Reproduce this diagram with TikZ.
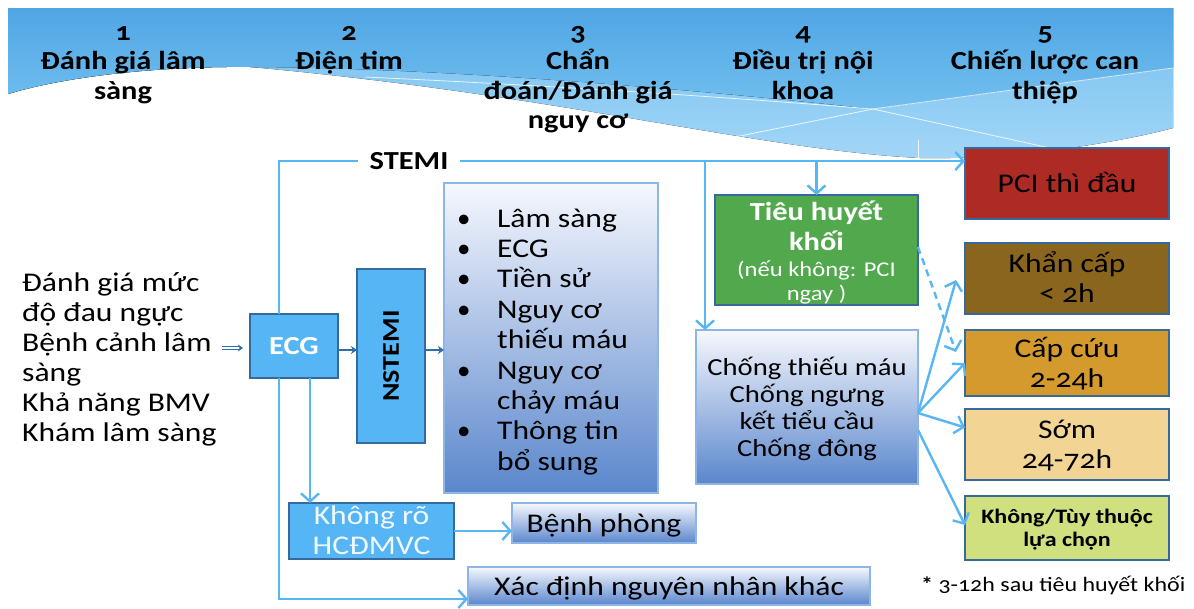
\documentclass[tikz,border=0pt]{standalone}
\usepackage{fontspec}
\setmainfont[Numbers=OldStyle, FakeStretch=1.17]{Carlito}
\newfontfamily\bulletfont{Carlito}
\usetikzlibrary{arrows.meta,calc}

\definecolor{bandtop}{HTML}{50A6E4}
\definecolor{bandmid}{HTML}{72BFEF}
\definecolor{bandlight}{HTML}{A3D6F7}
\definecolor{linkblue}{HTML}{58B6F3}
\definecolor{darklink}{HTML}{2F6DA6}
\definecolor{boxblue}{HTML}{55B5F5}
\definecolor{boxedge}{HTML}{36699C}
\definecolor{gradtop}{HTML}{F6F8FD}
\definecolor{gradbot}{HTML}{5A86CC}
\definecolor{gradedge}{HTML}{8DB6E6}
\definecolor{tgreen}{HTML}{52A84D}
\definecolor{pcired}{HTML}{AE2A25}
\definecolor{urgbrown}{HTML}{8A651E}
\definecolor{emorange}{HTML}{D49A2E}
\definecolor{earlytan}{HTML}{F2D594}
\definecolor{optgreen}{HTML}{D1E07E}

\newcommand{\rows}[2][l]{\begin{tabular}[t]{@{}#1@{}}#2\end{tabular}}
\newcommand{\blt}{{\bulletfont\textbullet}}

\tikzset{
  link/.style={draw=linkblue, line width=2.4pt, -{Straight Barb[length=8pt,width=18pt,line width=2.4pt]}},
  plainlink/.style={draw=linkblue, line width=2.4pt},
  dashlink/.style={link, dashed, dash pattern=on 7pt off 5pt},
  thicklink/.style={draw=darklink, line width=2.6pt, -{Stealth[length=6pt,width=8pt]}},
  hollowlink/.style={draw=darklink, line width=1pt, double=white, double distance=1.6pt, -{Stealth[length=5pt,width=7pt]}},
  solidbox/.style={draw=boxedge, line width=1.4pt, fill=boxblue, anchor=north west, inner sep=0pt, outer sep=0pt},
  gradbox/.style={draw=gradedge, line width=1.2pt, top color=gradtop, bottom color=gradbot, anchor=north west, inner sep=0pt, outer sep=0pt},
  colbox/.style={draw=boxedge, line width=1.4pt, anchor=north west, inner sep=0pt, outer sep=0pt},
  head/.style={font=\bfseries\fontsize{26}{29.5}\selectfont, anchor=base, inner sep=0pt},
  body/.style={font=\fontsize{27}{30}\selectfont, inner sep=0pt},
}

\begin{document}
\begin{tikzpicture}[x=1pt, y=-1pt]
\useasboundingbox (0,0) rectangle (1194,608);

% ---- banner with wave ----
\fill[top color=bandmid, bottom color=bandlight]
  (8,8) -- (1173,8) -- (1173,128)
  .. controls (1110,145) and (1000,160) .. (920,158)
  .. controls (760,150) and (560,95) .. (250,67)
  .. controls (150,66) and (60,78) .. (8,94) -- cycle;
\fill[top color=bandtop, bottom color=bandmid]
  (8,8) -- (1173,8) -- (1173,68) -- (873,109)
  .. controls (700,90) and (450,68) .. (250,67)
  .. controls (150,66) and (60,78) .. (8,94) -- cycle;
\draw[white, line width=0.8pt, opacity=0.8] (365,77) .. controls (600,88) and (760,100) .. (873,109) -- (1050,148);
\draw[white, line width=0.8pt, opacity=0.8] (730,138) -- (873,109) -- (1173,68);
\draw[white, line width=0.8pt, opacity=0.8] (918,140) -- (918,158);

% ---- column headings ----
\node[head] (h1) at (123,40) {\rows[c]{1\\Đánh giá lâm\\sàng}};
\node[head] (h2) at (349,40) {\rows[c]{2\\Điện tim}};
\node[head] (h3) at (578,40) {\rows[c]{3\\Chẩn\\đoán/Đánh giá\\nguy cơ}};
\node[head] (h4) at (803,40) {\rows[c]{4\\Điều trị nội\\khoa}};
\node[head] (h5) at (1045,40) {\rows[c]{5\\Chiến lược can\\thiệp}};

% ---- stage 1: clinical assessment ----
\node[body, anchor=base west] (eval) at (22,291)
  {\rows{Đánh giá mức\\độ đau ngực\\Bệnh cảnh lâm\\sàng\\Khả năng BMV\\Khám lâm sàng}};

% ---- stage 2: ECG ----
\node[solidbox, minimum width=88, minimum height=64] (ecg) at (250,314) {};
\node[font=\bfseries\fontsize{26}{30}\selectfont, text=white] at (ecg.center) {ECG};
\node[solidbox, minimum width=68, minimum height=174] (nstemi) at (357,269) {};
\node[font=\bfseries\fontsize{24}{30}\selectfont, rotate=90] at (nstemi.center) {NSTEMI};
\node[font=\bfseries\fontsize{26}{30}\selectfont, inner xsep=11pt, inner ysep=0pt] (stemi) at (409,161) {STEMI};

% ---- stage 3: diagnosis / risk ----
\node[gradbox, minimum width=214, minimum height=310] (risk) at (444,183) {};
\node[body, anchor=base west] at (457,227)
  {\fontsize{27}{30.4}\selectfont\begin{tabular}[t]{@{}p{40pt}@{}l@{}}
   \blt & Lâm sàng\\ \blt & ECG\\ \blt & Tiền sử\\
   \blt & Nguy cơ\\ & thiếu máu\\ \blt & Nguy cơ\\ & chảy máu\\
   \blt & Thông tin\\ & bổ sung\end{tabular}};

\node[solidbox, minimum width=165, minimum height=56] (unclear) at (289,503) {};
\node[body, text=white!92!boxblue, anchor=base] at (371.5,524) {\rows[c]{Không rõ\\HCĐMVC}};
\node[gradbox, minimum width=184, minimum height=40] (ward) at (512,503) {};
\node[body, anchor=base] at (604,532) {Bệnh phòng};
\node[gradbox, minimum width=402, minimum height=38] (other) at (468,567) {};
\node[body, anchor=base] at (669,595) {Xác định nguyên nhân khác};

% ---- stage 4: medical treatment ----
\node[colbox, fill=tgreen, minimum width=203, minimum height=110] (lysis) at (715,195) {};
\node[font=\bfseries\fontsize{26}{30}\selectfont, text=white, anchor=base, inner sep=0pt] at (816.5,220) {\rows[c]{Tiêu huyết\\khối}};
\node[font=\fontsize{21}{24}\selectfont, text=white, anchor=base, inner sep=0pt] at (816.5,276) {\rows[c]{(nếu không: PCI\\ngay )}};
\node[gradbox, minimum width=222, minimum height=154] (meds) at (696,330) {};
\node[font=\fontsize{24.5}{27.3}\selectfont, anchor=base, inner sep=0pt] at (807,375)
  {\rows[c]{Chống thiếu máu\\Chống ngưng\\kết tiểu cầu\\Chống đông}};

% ---- stage 5: invasive strategy ----
\node[colbox, fill=pcired, minimum width=204, minimum height=71] (pci) at (965,148) {};
\node[body, anchor=base] at (1067,192) {PCI thì đầu};
\node[colbox, fill=urgbrown, minimum width=204, minimum height=71] (urgent) at (965,243) {};
\node[body, anchor=base] at (1067,272) {\rows[c]{Khẩn cấp\\< 2h}};
\node[colbox, fill=emorange, minimum width=204, minimum height=66] (emerg) at (965,330) {};
\node[body, anchor=base] at (1067,357) {\rows[c]{Cấp cứu\\2-24h}};
\node[colbox, fill=earlytan, minimum width=204, minimum height=71] (early) at (965,409) {};
\node[body, anchor=base] at (1067,438) {\rows[c]{Sớm\\24-72h}};
\node[colbox, fill=optgreen, minimum width=204, minimum height=64] (option) at (965,496) {};
\node[font=\bfseries\fontsize{20.5}{23}\selectfont, anchor=base, inner sep=0pt] at (1067,523) {\rows[c]{Không/Tùy thuộc\\lựa chọn}};

\node[font=\fontsize{20.5}{25}\selectfont, anchor=base west, inner sep=0pt] (note) at (921,591) {{\bfseries *} 3-12h sau tiêu huyết khối};

% ---- connectors ----
\coordinate (inA) at ($(ecg.west)+(-28,2)$);
\draw[hollowlink] (inA) -- ($(ecg.west)+(-7,2)$);
\draw[thicklink] ($(ecg.east)+(0,4)$) -- ($(ecg.east -| nstemi.west)+(0,4)$);
\draw[thicklink] ($(ecg.east -| nstemi.east)+(0,4)$) -- ($(ecg.east -| risk.west)+(0,4)$);

\coordinate (ecgtap) at ($(ecg.north west)+(29,0)$);
\draw[plainlink] (ecgtap) |- (stemi.west);
\draw[link] (stemi.east) -- (stemi.east -| pci.west);
\draw[link] (stemi.east -| lysis.north) -- (lysis.north);
\coordinate (medtap) at ($(meds.north west)+(9,0)$);
\draw[link] (medtap |- stemi.east) -- (medtap);

\coordinate (ecglow) at ($(ecg.south west)+(29,0)$);
\coordinate (ecgdown) at ($(ecg.south west)+(60,0)$);
\draw[link] (ecglow) |- ($(other.west)+(0,13)$);
\draw[link] (ecgdown) -- (ecgdown |- unclear.north);
\draw[link] (unclear.east) -- (unclear.east -| ward.west);

\coordinate (fan) at ($(meds.east)+(0,6)$);
\draw[link] (fan) -- ($(urgent.west)+(-9,1.5)$);
\draw[link] (fan) -- (emerg.west);
\draw[link] (fan) -- ($(early.west)+(0,-17)$);
\draw[link] ($(meds.east)+(0,23)$) -- ($(option.west)+(0,-3)$);
\draw[dashlink] ($(lysis.east)+(0,-3)$) -- ($(emerg.west)+(-9,-11)$);
\end{tikzpicture}
\end{document}
